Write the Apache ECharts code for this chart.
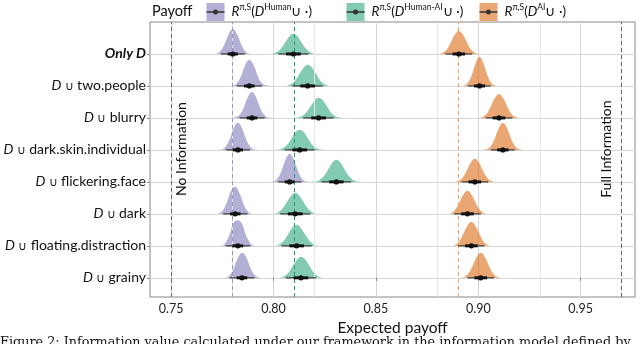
<!DOCTYPE html>
<html>
<head>
<meta charset="utf-8">
<script src="https://cdn.jsdelivr.net/npm/echarts@6/dist/echarts.min.js"></script>
<style>
  html, body { margin: 0; padding: 0; background: #fff; }
  #chart { width: 640px; height: 344px; }
</style>
</head>
<body>
<div id="chart"></div>
<script>
// rows, top to bottom
const rowNames = ['Only D', 'two.people', 'blurry', 'dark.skin.individual', 'flickering.face', 'dark', 'floating.distraction', 'grainy'];
const rowY = [7, 6, 5, 4, 3, 2, 1, 0];

const xTicks = [0.75, 0.80, 0.85, 0.90, 0.95];
const xMinor = [0.775, 0.825, 0.875, 0.925, 0.975];

// reference lines
const noInfo = 0.75;
const fullInfo = 0.9676;
const humanBase = 0.7803;
const hybridBase = 0.8097;
const aiBase = 0.8903;

// posterior means
const humanMean = [0.7801, 0.7882, 0.7895, 0.7826, 0.8079, 0.7813, 0.7826, 0.7846];
const hybridMean = [0.8097, 0.8167, 0.8220, 0.8128, 0.8307, 0.8106, 0.8113, 0.8134];
const aiMean = [0.8905, 0.9006, 0.9101, 0.9120, 0.8983, 0.8947, 0.8966, 0.9012];

// intervals: [lo95, lo66, hi66, hi95]
const humanCI = [
  [0.7743, 0.7776, 0.7826, 0.7860], [0.7822, 0.7856, 0.7908, 0.7944],
  [0.7834, 0.7869, 0.7921, 0.7957], [0.7768, 0.7801, 0.7851, 0.7885],
  [0.8023, 0.8055, 0.8103, 0.8136], [0.7754, 0.7788, 0.7839, 0.7873],
  [0.7766, 0.7800, 0.7852, 0.7887], [0.7786, 0.7820, 0.7872, 0.7907]
];
const hybridCI = [
  [0.8024, 0.8061, 0.8133, 0.8171], [0.8093, 0.8131, 0.8203, 0.8240],
  [0.8145, 0.8184, 0.8256, 0.8294], [0.8055, 0.8092, 0.8164, 0.8202],
  [0.8235, 0.8272, 0.8342, 0.8379], [0.8032, 0.8070, 0.8142, 0.8180],
  [0.8039, 0.8077, 0.8149, 0.8187], [0.8060, 0.8098, 0.8170, 0.8208]
];
const aiCI = [
  [0.8840, 0.8874, 0.8936, 0.8970], [0.8950, 0.8979, 0.9033, 0.9060],
  [0.9036, 0.9070, 0.9132, 0.9166], [0.9061, 0.9092, 0.9148, 0.9178],
  [0.8918, 0.8952, 0.9014, 0.9048], [0.8882, 0.8916, 0.8978, 0.9012],
  [0.8901, 0.8935, 0.8997, 0.9031], [0.8947, 0.8981, 0.9043, 0.9077]
];

// density outlines: first x of each ridge, heights every 0.002 (in row units)
const densStep = 0.002;
const humanStart = [0.7701, 0.7782, 0.7795, 0.7726, 0.7979, 0.7713, 0.7726, 0.7746];
const humanDens = [
  [0, .01, .09, .31, .62, .78, .63, .32, .09, .01, 0],
  [0, .01, .09, .32, .65, .82, .66, .33, .10, .02, 0],
  [0, .02, .10, .33, .66, .82, .64, .31, .09, .01, 0],
  [0, .01, .10, .34, .68, .85, .68, .34, .10, .01, 0],
  [0, .01, .10, .35, .70, .88, .70, .35, .10, .01, 0],
  [0, .02, .11, .37, .72, .85, .66, .32, .09, .01, 0],
  [0, .01, .10, .36, .74, .80, .69, .33, .09, .01, 0],
  [0, .01, .08, .30, .62, .78, .65, .33, .10, .02, 0]
];
const hybridStart = [0.7977, 0.8047, 0.8100, 0.8008, 0.8187, 0.7986, 0.7993, 0.8014];
const hybridDens = [
  [0, .01, .06, .17, .36, .55, .63, .55, .36, .17, .06, .01, 0],
  [0, .01, .06, .18, .38, .57, .66, .58, .39, .18, .06, .01, 0],
  [0, .01, .06, .17, .35, .54, .63, .56, .37, .17, .06, .01, 0],
  [0, .01, .06, .17, .36, .55, .63, .55, .36, .17, .06, .01, 0],
  [0, .01, .07, .19, .39, .60, .69, .60, .39, .19, .07, .01, 0],
  [0, .01, .06, .18, .38, .57, .66, .57, .38, .18, .06, .01, 0],
  [0, .01, .06, .18, .38, .58, .66, .56, .37, .18, .06, .01, 0],
  [0, .01, .06, .17, .37, .56, .66, .58, .39, .18, .06, .01, 0]
];
const aiStart = [0.8805, 0.8906, 0.9001, 0.9020, 0.8883, 0.8847, 0.8866, 0.8912];
const aiDens = [
  [0, .03, .13, .35, .60, .72, .60, .35, .13, .03, 0],
  [0, .01, .07, .30, .69, .91, .69, .30, .07, .01, 0],
  [0, .03, .13, .36, .62, .75, .62, .36, .13, .03, 0],
  [0, .02, .11, .35, .68, .85, .68, .35, .11, .02, 0],
  [0, .03, .13, .35, .60, .72, .60, .35, .13, .03, 0],
  [0, .03, .13, .35, .60, .72, .60, .35, .13, .03, 0],
  [0, .03, .13, .36, .62, .75, .62, .36, .13, .03, 0],
  [0, .03, .14, .37, .65, .78, .65, .37, .14, .03, 0]
];

const FONT = 'Lato';
const purple = 'rgba(117,112,179,0.55)';
const green = 'rgba(27,158,119,0.55)';
const orange = 'rgba(217,95,2,0.55)';

function densitySeries(starts, dens, color) {
  return starts.map((s, i) => ({
    type: 'line',
    data: dens[i].map((h, k) => [s + k * densStep, rowY[i] + h]),
    smooth: 0.4,
    symbol: 'none',
    lineStyle: { width: 0 },
    areaStyle: { color: color, origin: rowY[i], opacity: 1 },
    silent: true,
    z: 3
  }));
}

function intervalSeries(means, ci) {
  return {
    type: 'custom',
    data: means.map((m, i) => [m, rowY[i], ci[i][0], ci[i][1], ci[i][2], ci[i][3]]),
    encode: { x: 0, y: 1 },
    renderItem: function (params, api) {
      const y = api.value(1);
      const p = api.coord([api.value(0), y]);
      const a = api.coord([api.value(2), y]);
      const b = api.coord([api.value(3), y]);
      const c = api.coord([api.value(4), y]);
      const d = api.coord([api.value(5), y]);
      return {
        type: 'group',
        children: [
          { type: 'line', shape: { x1: a[0], y1: a[1], x2: d[0], y2: d[1] }, style: { stroke: '#444', lineWidth: 1.3 } },
          { type: 'line', shape: { x1: b[0], y1: b[1], x2: c[0], y2: c[1] }, style: { stroke: '#111', lineWidth: 3 } },
          { type: 'circle', shape: { cx: p[0], cy: p[1], r: 2.6 }, style: { fill: '#111' } }
        ]
      };
    },
    silent: true,
    z: 6
  };
}

function vline(x, color) {
  return { xAxis: x, lineStyle: { color: color, type: [4, 3], width: 1 }, label: { show: false } };
}

function gridline(x) {
  return { xAxis: x, lineStyle: { color: '#e6e6e6', type: 'solid', width: 1 }, label: { show: false } };
}

function vlabel(x, text, pos) {
  return [
    {
      coord: [x, 3.2],
      lineStyle: { color: 'rgba(0,0,0,0)', width: 0 },
      label: { show: true, position: pos, formatter: text, fontFamily: FONT, fontSize: 14, color: '#111', distance: 3 }
    },
    { coord: [x, 4.85] }
  ];
}

function legendItem(x, color, text) {
  return {
    type: 'group',
    left: x, top: 3,
    children: [
      { type: 'rect', shape: { x: 0, y: 0, width: 18, height: 18 }, style: { fill: color } },
      { type: 'line', shape: { x1: 0, y1: 9, x2: 18, y2: 9 }, style: { stroke: '#333', lineWidth: 1.5 } },
      { type: 'circle', shape: { cx: 9, cy: 9, r: 2.5 }, style: { fill: '#333' } },
      {
        type: 'text', x: 25, y: 9,
        style: {
          text: text,
          verticalAlign: 'middle',
          fill: '#111',
          rich: {
            i: { fontFamily: FONT, fontStyle: 'italic', fontSize: 13.5, lineHeight: 18 },
            n: { fontFamily: FONT, fontSize: 13.5, lineHeight: 18 },
            s: { fontFamily: FONT, fontSize: 8.5, lineHeight: 8, verticalAlign: 'top' }
          }
        }
      }
    ]
  };
}

const chart = echarts.init(document.getElementById('chart'));

chart.setOption({
  animation: false,
  backgroundColor: '#fff',
  grid: { left: 150, right: 5, top: 22, bottom: 47, show: true, borderColor: '#888', borderWidth: 1 },
  xAxis: {
    type: 'value',
    min: 0.7397, max: 0.9765,
    name: 'Expected payoff',
    nameLocation: 'middle',
    nameGap: 14,
    nameTextStyle: { fontFamily: FONT, fontSize: 15.5, color: '#111' },
    axisLine: { show: false },
    axisTick: { show: true, length: 3, lineStyle: { color: '#888' }, customValues: xTicks },
    axisLabel: { customValues: xTicks, fontFamily: FONT, fontSize: 12.5, color: '#222', margin: 5, formatter: v => v.toFixed(2) },
    splitLine: { show: true, lineStyle: { color: '#d6d6d6', width: 1 } }
  },
  yAxis: {
    type: 'value',
    min: -0.6, max: 8.0,
    axisLine: { show: false },
    axisTick: { show: true, length: 3, lineStyle: { color: '#888' }, customValues: rowY },
    axisLabel: {
      customValues: rowY,
      margin: 4,
      color: '#111',
      formatter: function (v) {
        const i = 7 - Math.round(v);
        if (i === 0) return '{b|' + rowNames[0] + '}';
        return '{i|D} {u|∪} {n|' + rowNames[i] + '}';
      },
      rich: {
        b: { fontFamily: FONT, fontSize: 14, fontWeight: 'bold', fontStyle: 'italic', color: '#111' },
        i: { fontFamily: FONT, fontSize: 14, fontStyle: 'italic', color: '#111' },
        u: { fontFamily: FONT, fontSize: 12, color: '#111' },
        n: { fontFamily: FONT, fontSize: 14, color: '#111' }
      }
    },
    splitLine: { show: true, lineStyle: { color: '#d6d6d6', width: 1 } }
  },
  graphic: [
    { type: 'text', left: 152, top: 4, style: { text: 'Payoff', fontFamily: FONT, fontSize: 14.5, fill: '#111' } },
    legendItem(204, purple, '{i|R}{s|π,S}{n|(}{i|D}{s|Human}{n|∪ ·)}'),
    legendItem(344, green, '{i|R}{s|π,S}{n|(}{i|D}{s|Human-AI}{n|∪ ·)}'),
    legendItem(477, orange, '{i|R}{s|π,S}{n|(}{i|D}{s|AI}{n|∪ ·)}'),
    {
      type: 'text', left: 0, top: 336,
      style: { text: 'Figure 2: Information value calculated under our framework in the information model defined by', fontFamily: 'DejaVu Serif', fontSize: 12.8, fill: '#111' }
    }
  ],
  series: [
    {
      type: 'line',
      data: [],
      z: 1,
      markLine: {
        silent: true,
        symbol: 'none',
        animation: false,
        data: xMinor.map(gridline)
      }
    },
    {
      type: 'line',
      data: [],
      z: 2,
      markLine: {
        silent: true,
        symbol: 'none',
        animation: false,
        data: [
          vline(noInfo, '#666'),
          vline(fullInfo, '#666'),
          vline(humanBase, '#9a96c8'),
          vline(hybridBase, '#1b9e77'),
          vline(aiBase, '#f0a060'),
          vlabel(noInfo, 'No Information', 'insideMiddleBottom'),
          vlabel(fullInfo, 'Full Information', 'insideMiddleTop')
        ]
      }
    },
    ...densitySeries(humanStart, humanDens, purple),
    ...densitySeries(hybridStart, hybridDens, green),
    ...densitySeries(aiStart, aiDens, orange),
    intervalSeries(humanMean, humanCI),
    intervalSeries(hybridMean, hybridCI),
    intervalSeries(aiMean, aiCI)
  ]
});
</script>
</body>
</html>
